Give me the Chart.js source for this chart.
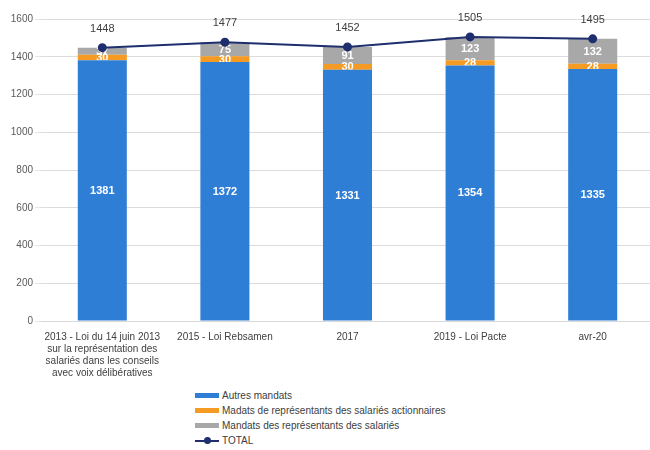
<!DOCTYPE html>
<html>
<head>
<meta charset="utf-8">
<script src="https://cdn.jsdelivr.net/npm/chart.js@4"></script>
<style>
  html, body { margin: 0; padding: 0; background: #fff; overflow: hidden; width: 650px; height: 450px; }
  #wrap { position: absolute; left: 0; top: 0; width: 660px; height: 380px; }
  #legend { position: absolute; left: 195px; top: 388px; font-family: "Liberation Sans", Arial, sans-serif; font-size: 10px; color: #404040; }
  #legend .row { height: 15px; line-height: 15px; display: flex; align-items: center; }
  #legend .sw { width: 24px; height: 5px; margin-right: 3px; position: relative; }
  #legend .ln { width: 24px; height: 2px; margin-right: 3px; position: relative; }
  #legend .ln i { position: absolute; left: 9px; top: -2.5px; width: 7px; height: 7px; border-radius: 50%; }
</style>
</head>
<body>
<div id="wrap"><canvas id="c"></canvas></div>
<div id="legend"></div>
<script>
// Categories (x axis)
const categories = [
  ["2013 - Loi du 14 juin 2013", "sur la représentation des", "salariés dans les conseils", "avec voix délibératives"],
  "2015 - Loi Rebsamen",
  "2017",
  "2019 - Loi Pacte",
  "avr-20"
];

// Series values
const autresMandats = [1381, 1372, 1331, 1354, 1335];
const salariesActionnaires = [30, 30, 30, 28, 28];
const representantsSalaries = [37, 75, 91, 123, 132];
const total = [1448, 1477, 1452, 1505, 1495];

// Y axis ticks
const yMin = 0;
const yMax = 1600;
const yStep = 200;

const seriesNames = [
  "Autres mandats",
  "Madats de représentants des salariés actionnaires",
  "Mandats des représentants des salariés",
  "TOTAL"
];

const BLUE = "#2F7ED6";
const ORANGE = "#F59A23";
const GREY = "#A8A8A8";
const NAVY = "#1F2F6E";
const FONT = "'Liberation Sans', Arial, sans-serif";

// Value labels centred inside each stacked segment
const segmentLabels = {
  id: "segmentLabels",
  afterDatasetDraw(chart, args) {
    const ds = chart.data.datasets[args.index];
    if (ds.type === "line") return;
    const ctx = chart.ctx;
    const meta = args.meta;
    ctx.save();
    ctx.font = "bold 11px " + FONT;
    ctx.fillStyle = "#ffffff";
    ctx.textAlign = "center";
    ctx.textBaseline = "middle";
    meta.data.forEach((el, i) => {
      const p = el.getProps(["x", "y", "base"], true);
      ctx.fillText(String(ds.data[i]), p.x, (p.y + p.base) / 2 + 0.5);
    });
    ctx.restore();
  },
  afterDatasetsDraw(chart) {
    const idx = chart.data.datasets.findIndex(d => d.type === "line");
    const meta = chart.getDatasetMeta(idx);
    const ds = chart.data.datasets[idx];
    const ctx = chart.ctx;
    ctx.save();
    ctx.font = "11px " + FONT;
    ctx.fillStyle = "#404040";
    ctx.textAlign = "center";
    ctx.textBaseline = "middle";
    meta.data.forEach((el, i) => {
      const p = el.getProps(["x", "y"], true);
      ctx.fillText(String(ds.data[i]), p.x, p.y - 19);
    });
    ctx.restore();
  }
};

const chart = new Chart(document.getElementById("c"), {
  data: {
    labels: categories,
    datasets: [
      { type: "line", label: seriesNames[3], data: total, borderColor: NAVY, backgroundColor: NAVY,
        borderWidth: 2, pointRadius: 3.5, pointBackgroundColor: NAVY, pointBorderColor: NAVY,
        tension: 0, stack: "total", order: 0 },
      { type: "bar", label: seriesNames[0], data: autresMandats, backgroundColor: BLUE, stack: "s", order: 1 },
      { type: "bar", label: seriesNames[1], data: salariesActionnaires, backgroundColor: ORANGE, stack: "s", order: 1 },
      { type: "bar", label: seriesNames[2], data: representantsSalaries, backgroundColor: GREY, stack: "s", order: 1 }
    ]
  },
  options: {
    responsive: true,
    maintainAspectRatio: false,
    animation: false,
    layout: { padding: { top: 19, right: 4, left: 0, bottom: 0 } },
    datasets: { bar: { categoryPercentage: 1, barPercentage: 0.4 } },
    plugins: { legend: { display: false }, tooltip: { enabled: false } },
    scales: {
      x: {
        stacked: true,
        grid: { display: false },
        border: { display: true, color: "#D9D9D9" },
        ticks: { color: "#404040", font: { family: FONT, size: 10 }, maxRotation: 0, autoSkip: false, padding: 2 },
        afterFit(s) { s.height = 59; }
      },
      y: {
        stacked: true,
        min: yMin, max: yMax,
        grid: { color: "#DCDCDC", drawTicks: true, tickLength: 6, tickColor: "#E6E6E6" },
        border: { display: false },
        ticks: { stepSize: yStep, color: "#595959", font: { family: FONT, size: 10 }, padding: 2,
                 callback: v => String(v) },
        afterFit(s) { s.width = 41; }
      }
    }
  },
  plugins: [segmentLabels]
});

// Vertical legend listing the series
const legend = document.getElementById("legend");
const swatches = [BLUE, ORANGE, GREY];
seriesNames.forEach((name, i) => {
  const row = document.createElement("div");
  row.className = "row";
  const mark = document.createElement("span");
  if (i < 3) {
    mark.className = "sw";
    mark.style.background = swatches[i];
  } else {
    mark.className = "ln";
    mark.style.background = NAVY;
    const dot = document.createElement("i");
    dot.style.background = NAVY;
    mark.appendChild(dot);
  }
  const txt = document.createElement("span");
  txt.textContent = name;
  row.appendChild(mark);
  row.appendChild(txt);
  legend.appendChild(row);
});
</script>
</body>
</html>
